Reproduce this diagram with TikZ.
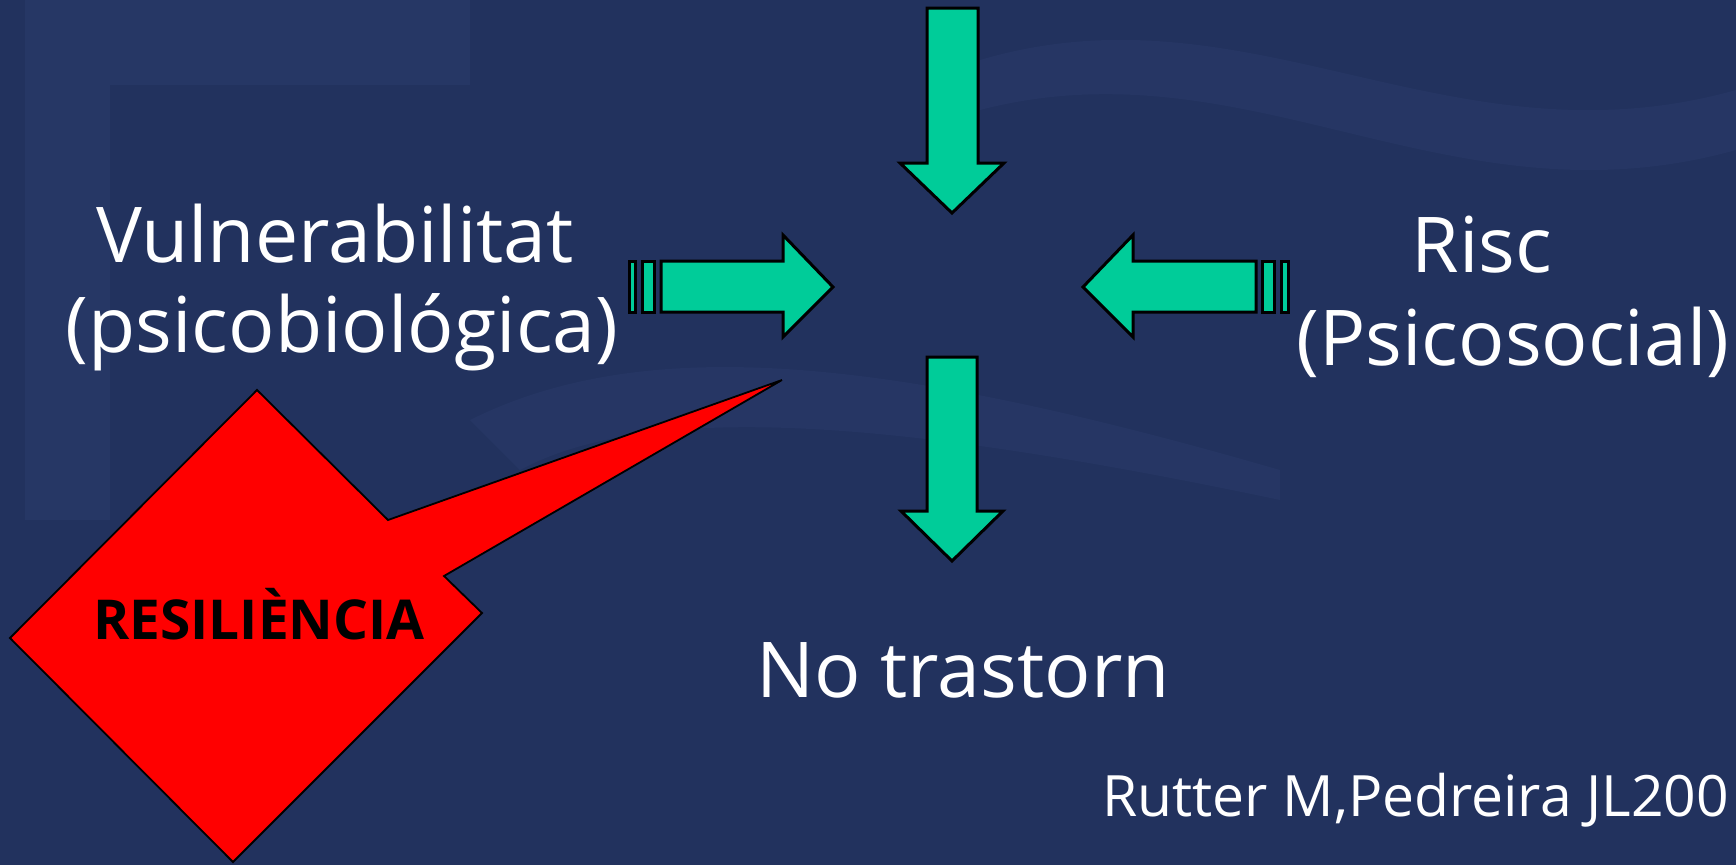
\documentclass[tikz,border=0pt]{standalone}
\usepackage{fontspec}
\setmainfont{Open Sans}
\usetikzlibrary{positioning,calc}
\definecolor{slidebg}{HTML}{22325E}
\definecolor{slidetex}{HTML}{2A3B6A}
\definecolor{arrowgreen}{HTML}{00CC99}

\begin{document}
\begin{tikzpicture}[x=1pt,y=-1pt,
      blk/.style={fill=arrowgreen,draw=black,line width=3pt,line join=miter},
      lbl/.style={text=white,anchor=base,inner sep=0pt,font=\fontsize{77}{90}\selectfont},
      callout/.style={fill=red,draw=black,line width=1.8pt,line join=miter}]
    % background and faint texture
    \fill[slidebg] (0,0) rectangle (1736,865);
    \useasboundingbox (0,0) rectangle (1736,865);
    \fill[slidetex,opacity=.6] (25,0) rectangle (110,520);
    \fill[slidetex,opacity=.6] (110,0) rectangle (470,85);
    \fill[slidetex,opacity=.5] (980,60) .. controls (1250,-20) and (1450,170) .. (1736,90)
      -- (1736,150) .. controls (1450,230) and (1250,40) .. (980,110) -- cycle;
    \fill[slidetex,opacity=.5] (470,420) .. controls (650,330) and (900,360) .. (1280,470)
      -- (1280,500) .. controls (900,420) and (650,400) .. (520,470) -- cycle;

    % block arrows
    \draw[blk] (927,8) -- (978,8) -- (978,163) -- (1004,163) -- (952,213)
      -- (900,163) -- (927,163) -- cycle;
    \draw[blk] (927,357) -- (977,357) -- (977,511) -- (1003,511) -- (952,561)
      -- (901,511) -- (927,511) -- cycle;
    \draw[blk] (629,261) rectangle (635,312);
    \draw[blk] (642,261) rectangle (654,312);
    \draw[blk] (661,261) -- (783,261) -- (783,235) -- (833,287) -- (783,337)
      -- (783,312) -- (661,312) -- cycle;
    \draw[blk] (1083,287) -- (1133,235) -- (1133,261) -- (1256,261) -- (1256,312)
      -- (1133,312) -- (1133,337) -- cycle;
    \draw[blk] (1262,261) rectangle (1274,312);
    \draw[blk] (1281,261) rectangle (1288,312);

    % labels
    \node[lbl] (vul)   at (335,262) {Vulnerabilitat};
    \node[lbl] (psico) at (342,352) {(psicobiológica)};
    \node[lbl] (risc)  at (1482,272) {Risc};
    \node[lbl] (psoc)  at (1513,365) {(Psicosocial)};
    \node[lbl] (notr)  at (963,697) {No trastorn};
    \node[lbl,anchor=base west,font=\fontsize{57}{66}\selectfont] (ref) at (1102,816)
      {Rutter M,Pedreira JL200};

    % callout
    \draw[callout] (257,390) -- (388,520) -- (782,380) -- (444,576) -- (482,613)
      -- (233,862) -- (10,638) -- cycle;
    \node[anchor=base,inner sep=0pt,font=\fontsize{55}{64}\selectfont\bfseries] (res)
      at (259,639) {RESILIÈNCIA};
\end{tikzpicture}
\end{document}
